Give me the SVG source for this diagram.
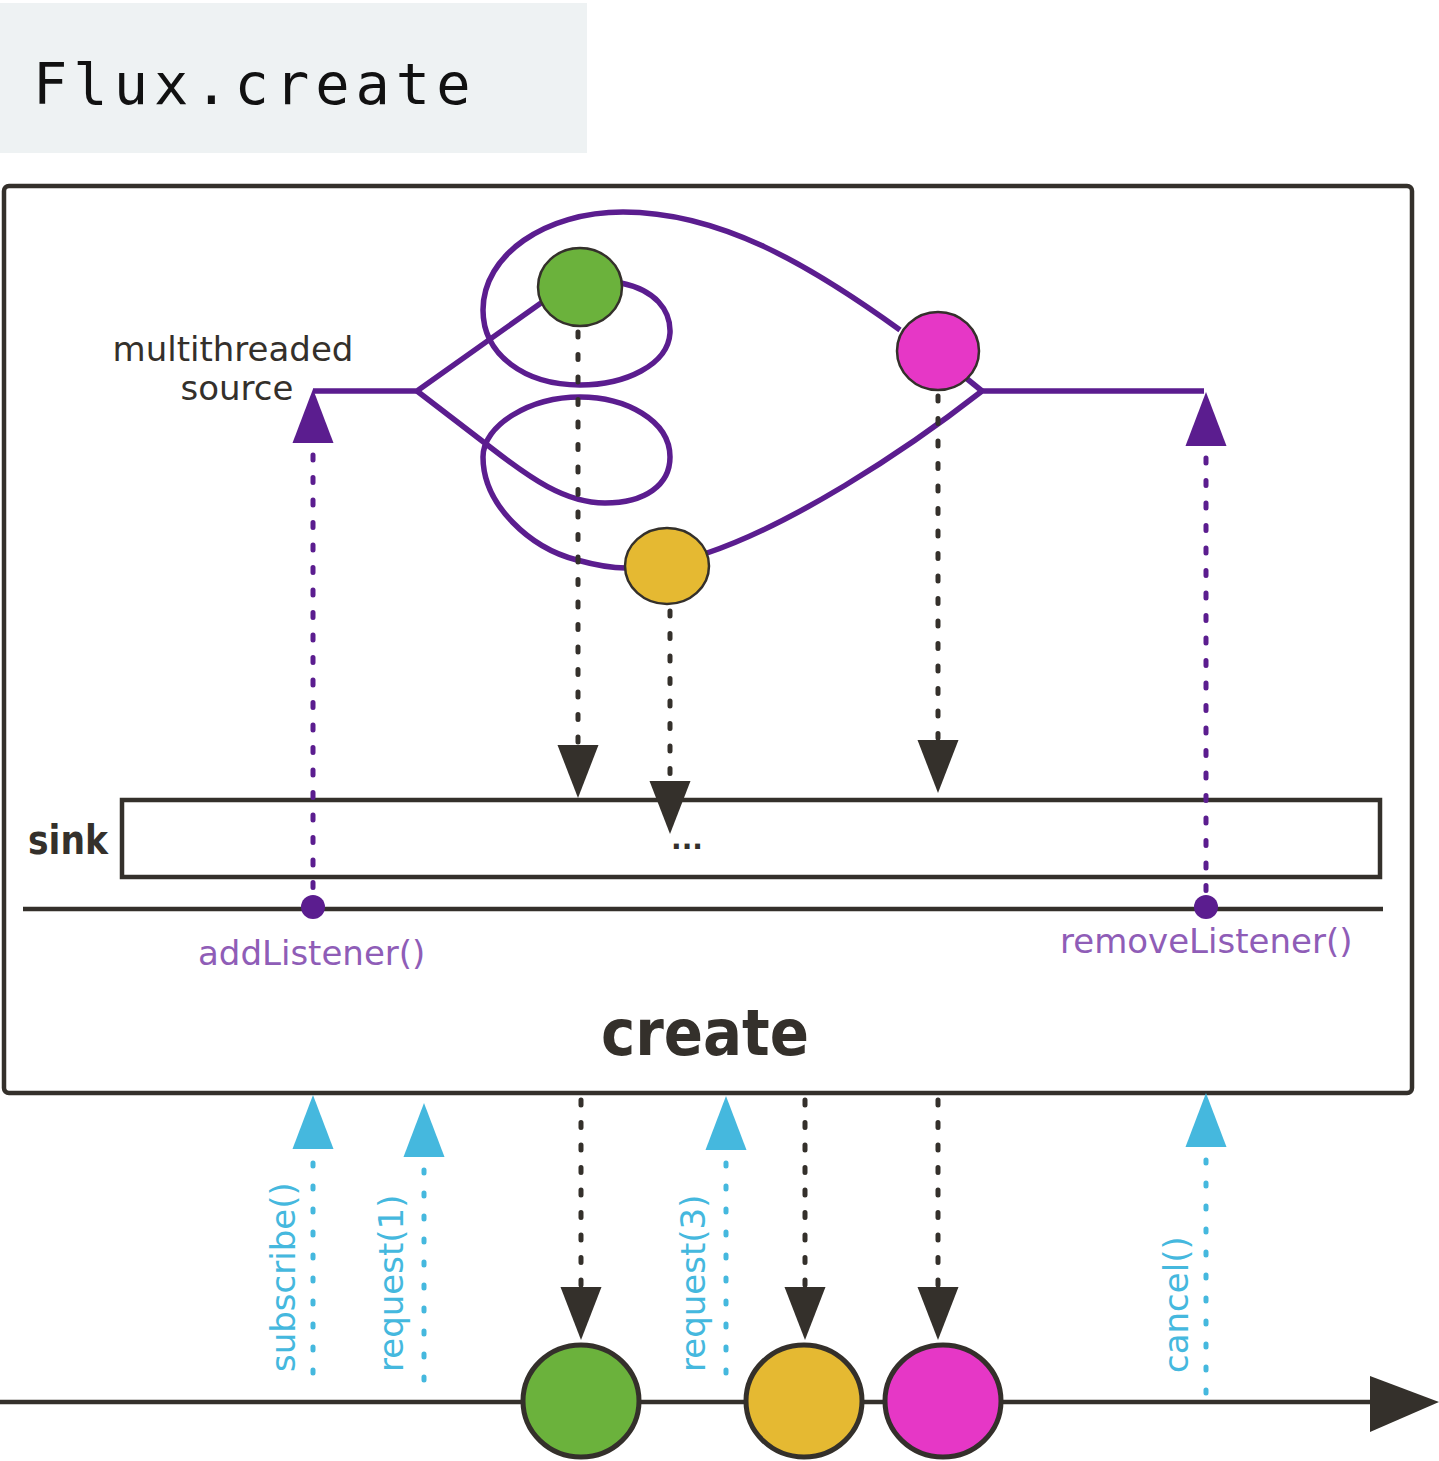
<svg xmlns="http://www.w3.org/2000/svg" xmlns:xlink="http://www.w3.org/1999/xlink" width="1439" height="1461" viewBox="0 0 1439 1461">
  <style>
    .frame { fill: none; stroke: #34302b; stroke-width: 4.5; }
    .dark-line { fill: none; stroke: #34302b; stroke-width: 4.5; }
    .flow { fill: none; stroke: #5b1d8f; stroke-width: 5.5; stroke-linejoin: round; }
    .dash-dark { fill: none; stroke: #34302b; stroke-width: 5; stroke-linecap: round; stroke-dasharray: 5 17.5; }
    .dash-purple { fill: none; stroke: #5b1d8f; stroke-width: 5; stroke-linecap: round; stroke-dasharray: 5 17.5; }
    .dash-cyan { fill: none; stroke: #45b8de; stroke-width: 5; stroke-linecap: round; stroke-dasharray: 3 20; }
    .head-dark { fill: #34302b; }
    .head-purple { fill: #5b1d8f; }
    .head-cyan { fill: #45b8de; }
    .src-dot { stroke: #34302b; stroke-width: 2.5; }
    .out-dot { stroke: #34302b; stroke-width: 5; }
    .green { fill: #6bb23c; }
    .yellow { fill: #e5b932; }
    .pink { fill: #e637c6; }
    .lbl { font-family: "DejaVu Sans", Verdana, sans-serif; font-size: 34px; }
    .lbl-dark { fill: #34302b; }
    .lbl-purple { fill: #8f5db7; }
    .lbl-cyan { fill: #45b8de; }
    .bold { font-family: "DejaVu Sans Condensed", "DejaVu Sans", sans-serif; font-weight: bold; fill: #34302b; }
  </style>
  <defs>
    <path id="arrow-up" d="M0,0 L-20.5,54 L20.5,54 Z"/>
    <path id="arrow-down" d="M0,0 L-20.5,-53 L20.5,-53 Z"/>
  </defs>

  <rect width="1439" height="1461" fill="#ffffff"/>

  <!-- title -->
  <g id="title">
    <rect x="0" y="3" width="587" height="150" fill="#eef2f3"/>
    <text x="33" y="104" font-family="DejaVu Sans Mono, monospace" font-size="57" letter-spacing="6" fill="#111111">Flux.create</text>
  </g>

  <!-- operator frame -->
  <g id="operator">
    <rect class="frame" x="4" y="186" width="1408" height="907" rx="5"/>
    <text class="bold" x="705" y="1055" font-size="64" text-anchor="middle" textLength="208" lengthAdjust="spacingAndGlyphs">create</text>
  </g>

  <!-- multithreaded source -->
  <g id="source">
    <text class="lbl lbl-dark" font-size="33" text-anchor="middle"><tspan x="233" y="361">multithreaded</tspan><tspan x="237" y="400">source</tspan></text>
    <path class="flow" d="M313,391 L417,391 L541,303"/>
    <path class="flow" d="M621,283 C655,290 671,310 670,333 C668,365 625,385 580,385 C525,385 483,355 483,310 C483,255 545,212 623,212 C720,212 810,265 900,330"/>
    <path class="flow" d="M417,391 L490,447 C530,478 565,503 605,503 C645,503 670,485 670,457 C670,420 625,397 580,397 C530,397 483,425 483,457 C483,505 530,548 577,560 C595,565 610,568 626,568"/>
    <path class="flow" d="M707,553 C790,525 900,455 982,391 L1204,391"/>
    <path class="flow" d="M966,378 L982,391"/>
  </g>

  <g id="src-green"><ellipse class="src-dot green" cx="580" cy="287" rx="42" ry="39"/></g>
  <g id="src-pink"><ellipse class="src-dot pink" cx="938" cy="351" rx="41" ry="39"/></g>
  <g id="src-yellow"><ellipse class="src-dot yellow" cx="667" cy="566" rx="42" ry="38"/></g>

  <!-- sink -->
  <g id="sink">
    <rect class="dark-line" x="122" y="800" width="1258" height="77"/>
    <text class="bold" x="28" y="854" font-size="40" textLength="80" lengthAdjust="spacingAndGlyphs">sink</text>
    <text x="671" y="849" font-family="DejaVu Sans, sans-serif" font-weight="bold" font-size="28" fill="#34302b">...</text>
  </g>

  <!-- listener lifecycle line -->
  <g id="listener">
    <line class="dark-line" x1="23" y1="909" x2="1383" y2="909"/>
    <text class="lbl lbl-purple" x="198" y="965">addListener()</text>
    <text class="lbl lbl-purple" x="1060" y="953">removeListener()</text>
  </g>

  <!-- connectors -->
  <g id="connectors">
    <!-- source emissions into the sink -->
    <line class="dash-dark" x1="578" y1="332" x2="578" y2="742"/>
    <line class="dash-dark" x1="670" y1="611" x2="670" y2="778"/>
    <line class="dash-dark" x1="938" y1="396" x2="938" y2="738"/>
    <use href="#arrow-down" class="head-dark" x="578" y="798"/>
    <use href="#arrow-down" class="head-dark" x="670" y="834"/>
    <use href="#arrow-down" class="head-dark" x="938" y="793"/>

    <!-- listener registration -->
    <line class="dash-purple" x1="313" y1="455" x2="313" y2="895"/>
    <line class="dash-purple" x1="1206" y1="458" x2="1206" y2="895"/>
    <use href="#arrow-up" class="head-purple" x="313" y="389"/>
    <use href="#arrow-up" class="head-purple" x="1206" y="392"/>
    <circle cx="313" cy="907" r="12" fill="#5b1d8f"/>
    <circle cx="1206" cy="907" r="12" fill="#5b1d8f"/>

    <!-- subscriber signals -->
    <line class="dash-cyan" x1="313" y1="1163" x2="313" y2="1393"/>
    <line class="dash-cyan" x1="424" y1="1170" x2="424" y2="1393"/>
    <line class="dash-cyan" x1="726" y1="1163" x2="726" y2="1393"/>
    <line class="dash-cyan" x1="1206" y1="1160" x2="1206" y2="1393"/>
    <use href="#arrow-up" class="head-cyan" x="313" y="1095"/>
    <use href="#arrow-up" class="head-cyan" x="424" y="1103"/>
    <use href="#arrow-up" class="head-cyan" x="726" y="1096"/>
    <use href="#arrow-up" class="head-cyan" x="1206" y="1093"/>

    <!-- emitted values -->
    <line class="dash-dark" x1="581" y1="1100" x2="581" y2="1285"/>
    <line class="dash-dark" x1="805" y1="1100" x2="805" y2="1285"/>
    <line class="dash-dark" x1="938" y1="1100" x2="938" y2="1285"/>
    <use href="#arrow-down" class="head-dark" x="581" y="1340"/>
    <use href="#arrow-down" class="head-dark" x="805" y="1340"/>
    <use href="#arrow-down" class="head-dark" x="938" y="1340"/>
  </g>

  <!-- signal labels -->
  <g id="signals">
    <text class="lbl lbl-cyan" transform="translate(295,1372) rotate(-90)">subscribe()</text>
    <text class="lbl lbl-cyan" transform="translate(403,1372) rotate(-90)">request(1)</text>
    <text class="lbl lbl-cyan" transform="translate(705,1372) rotate(-90)">request(3)</text>
    <text class="lbl lbl-cyan" transform="translate(1188,1373) rotate(-90)">cancel()</text>
  </g>

  <!-- output timeline -->
  <g id="timeline">
    <line class="dark-line" x1="0" y1="1402" x2="1380" y2="1402" stroke-width="5"/>
    <path class="head-dark" d="M1439,1402 L1370,1376 L1370,1432 Z"/>
  </g>
  <g id="out-green"><ellipse class="out-dot green" cx="581" cy="1401" rx="58" ry="56"/></g>
  <g id="out-yellow"><ellipse class="out-dot yellow" cx="804" cy="1401" rx="58" ry="56"/></g>
  <g id="out-pink"><ellipse class="out-dot pink" cx="943" cy="1401" rx="58" ry="56"/></g>
</svg>
